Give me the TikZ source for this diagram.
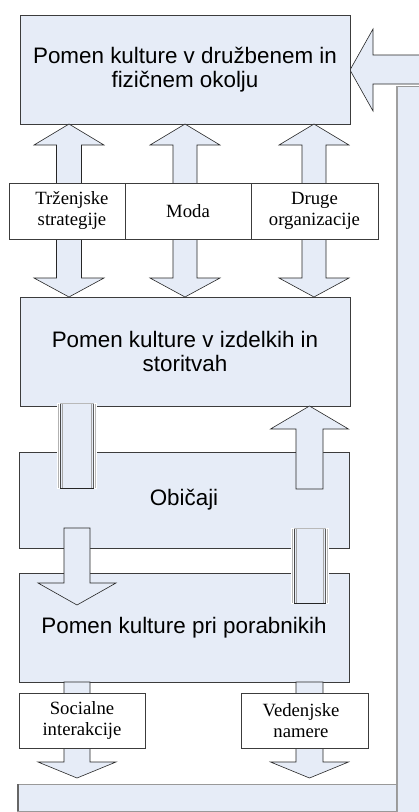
\documentclass[tikz,border=0pt]{standalone}
\usepackage{fontspec}
\setmainfont{Liberation Serif}
\newfontfamily\arialf{Liberation Sans}
\definecolor{lb}{RGB}{230,236,247}
\definecolor{edge}{RGB}{60,60,60}
\newcommand\dblarrow[7]{% xc, tip1, base1, base2, tip2, shaft half, head half
  \draw[blk] (#1,#2) -- (#1+#7,#3) -- (#1+#6,#3) -- (#1+#6,#4) -- (#1+#7,#4) -- (#1,#5)
    -- (#1-#7,#4) -- (#1-#6,#4) -- (#1-#6,#3) -- (#1-#7,#3) -- cycle;}
\newcommand\onearrow[6]{% xc, flat end, base, tip, shaft half, head half
  \draw[blk] (#1-#5,#2) -- (#1+#5,#2) -- (#1+#5,#3) -- (#1+#6,#3) -- (#1,#4)
    -- (#1-#6,#3) -- (#1-#5,#3) -- cycle;}
\newcommand\shadowbar[4]{% x1, y1, x2, y2
  \fill[white] (#1,#2) rectangle (#3,#4);
  \fill[lb] (#1+3,#2+1) rectangle (#3-3,#4-1);
  \draw[gray!55, line width=0.8pt] (#1+3,#2+0.8) -- (#3-3,#2+0.8);
  \draw[gray!60, line width=1.6pt] (#1+1.3,#2+1) -- (#1+1.3,#4-1);
  \draw[gray!20!black!80, line width=1.4pt] (#1+3.3,#2+1) -- (#1+3.3,#4-1);
  \draw[gray!70, line width=1pt] (#1+5,#2+1) -- (#1+5,#4-1);
  \draw[gray!70, line width=1.6pt] (#3-5.5,#2+1) -- (#3-5.5,#4-1);
  \draw[gray!30!black!75, line width=1.4pt] (#3-3.6,#2+1) -- (#3-3.6,#4-1);
  \draw[gray!55, line width=1.2pt] (#3-1.8,#2+1) -- (#3-1.8,#4-1);
  \draw[black!85, line width=1pt] (#1+3,#4-1) -- (#3-3,#4-1);}
\begin{document}
\begin{tikzpicture}[x=1pt,y=-1pt,
  bigbox/.style={draw=edge, fill=lb, line width=0.7pt, minimum width=330pt,
    inner sep=0pt, outer sep=0pt, align=center,
    font=\arialf\fontsize{22.4}{24}\selectfont},
  lblbox/.style={draw=edge, fill=white, line width=0.7pt, inner sep=0pt,
    outer sep=0pt, align=center, font=\fontsize{18.7}{21}\selectfont},
  blk/.style={draw=black!85, fill=lb, line width=0.6pt, line join=miter},
  ubar/.style={fill=lb, draw=gray!80, line width=0.7pt}]
\useasboundingbox (0,0) rectangle (419,812);
\clip (0,0) rectangle (419,812);

% feedback U-arrow
\draw[ubar] (396,86) rectangle (440,840);
\draw[gray!75, line width=2pt] (397,86) -- (397,830);
\draw[ubar] (17,784) rectangle (396,811);
\draw[gray!80!black, line width=2.2pt] (18,784) -- (18,811);
\draw[blk] (350,70) -- (373,29) -- (373,55) -- (440,55) -- (440,84) -- (373,84) -- (373,111) -- cycle;

% main boxes
\node[bigbox, minimum height=109pt] (env) at (185,69.5)
  {Pomen kulture v družbenem in\\fizičnem okolju};
\node[bigbox, minimum height=109pt] (prod) at (185,351.5)
  {Pomen kulture v izdelkih in\\storitvah};
\node[bigbox, minimum height=96pt] (cust) at (184,500) {Običaji};
\node[bigbox, minimum height=109pt] (cons) at (184,627.5)
  {Pomen kulture pri porabnikih};

% block arrows
\dblarrow{69}{124}{145}{278}{297}{12.5}{35}
\dblarrow{185}{124}{145}{278}{297}{12}{35}
\dblarrow{314}{124}{145}{278}{297}{12}{35}
\onearrow{309.5}{489}{429}{406}{13.5}{39}
\onearrow{77}{528}{583}{605}{13}{39}
\onearrow{77}{682}{762}{778}{13}{39}
\onearrow{309.5}{682}{762}{778}{13.5}{39}

% instrument boxes
\node[lblbox, minimum width=116pt, minimum height=56pt] (trz) at (67,211) {};
\node[font=\fontsize{18.7}{21}\selectfont, align=center, inner sep=0pt] (trzt) at (72,211)
  {Trženjske\\strategije};
\node[lblbox, minimum width=126pt, minimum height=56pt] (moda) at (188,211) {Moda};
\node[lblbox, minimum width=127pt, minimum height=56pt] (drug) at (314.5,211)
  {Druge\\organizacije};
\node[lblbox, minimum width=126pt, minimum height=55pt] (soc) at (82,720.5)
  {Socialne\\interakcije};
\node[lblbox, minimum width=127pt, minimum height=55pt] (ved) at (304.5,720.5) {};
\node[font=\fontsize{18.7}{21}\selectfont, align=center, inner sep=0pt] (vedt) at (301,720.5)
  {Vedenjske\\namere};

% shadowed bars
\shadowbar{57}{403}{97}{489}
\shadowbar{291}{528}{329}{604}
\end{tikzpicture}
\end{document}
